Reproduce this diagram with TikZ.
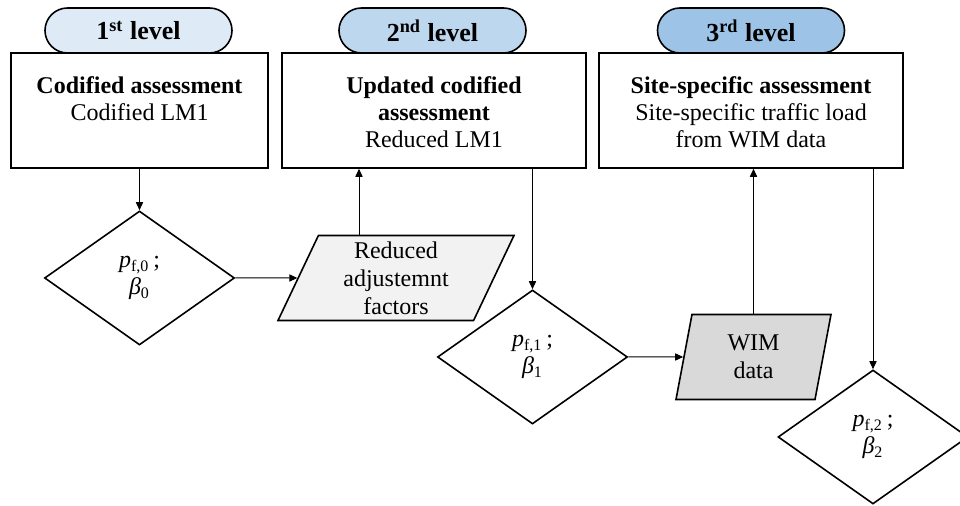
\documentclass[tikz,border=0pt]{standalone}
\usepackage{fontspec}
\setmainfont{Liberation Serif}
\usetikzlibrary{shapes.geometric,shapes.misc,arrows.meta}
\definecolor{lvA}{HTML}{DEEBF7}
\definecolor{lvB}{HTML}{BDD7EE}
\definecolor{lvC}{HTML}{9DC3E6}
\definecolor{ioA}{HTML}{F2F2F2}
\definecolor{ioB}{HTML}{D9D9D9}
\begin{document}
\begin{tikzpicture}[x=0.5pt,y=-0.5pt,
  pill/.style={rounded rectangle, draw, line width=0.8pt, minimum width=93.5pt, minimum height=22.5pt, inner sep=0pt, font=\fontsize{13}{15}\selectfont\bfseries},
  box/.style={rectangle, draw, line width=0.8pt, minimum height=57.5pt, inner sep=0pt},
  boxtext/.style={anchor=north, inner sep=0pt, align=center, font=\fontsize{12}{13.5}\selectfont},
  dec/.style={diamond, draw, line width=0.8pt, minimum width=95pt, minimum height=67pt, inner sep=0pt, align=center, font=\fontsize{12}{13.5}\selectfont},
  io/.style={trapezium, draw, line width=0.8pt, trapezium stretches body, minimum height=42.5pt, inner sep=0pt, align=center, font=\fontsize{12}{14}\selectfont},
  conn/.style={line width=0.5pt, -{Triangle[length=4pt,width=3.6pt]}}
]
\useasboundingbox (0,0) rectangle (960,506);
\fill[white] (0,0) rectangle (960,506);
\clip (0,0) rectangle (960,506);

% boxes
\node[box, minimum width=128.5pt] (b1) at (139.5,110.5) {};
\node[box, minimum width=152pt] (b2) at (434,110.5) {};
\node[box, minimum width=152pt] (b3) at (751,110.5) {};
\node[boxtext] (b1t) at (139.5,76) {\textbf{Codified assessment}\\Codified LM1};
\node[boxtext] (b2t) at (434,76) {\textbf{Updated codified}\\\textbf{assessment}\\Reduced LM1};
\node[boxtext] (b3t) at (751,76) {\textbf{Site-specific assessment}\\Site-specific traffic load\\from WIM data};

% level pills
\node[pill, fill=lvA] (l1) at (138.5,30.5) {1\textsuperscript{st} level};
\node[pill, fill=lvB] (l2) at (432.5,30.5) {2\textsuperscript{nd} level};
\node[pill, fill=lvC] (l3) at (751,30.5) {3\textsuperscript{rd} level};

% decisions
\node[dec] (d1) at (139.5,278) {{\itshape p}\textsubscript{f,0}\,;\\{\itshape β}\textsubscript{0}};
\node[dec] (d2) at (532.5,357) {{\itshape p}\textsubscript{f,1}\,;\\{\itshape β}\textsubscript{1}};
\node[dec] (d3) at (873,437) {{\itshape p}\textsubscript{f,2}\,;\\{\itshape β}\textsubscript{2}};

% inputs
\node[io, fill=ioA, trapezium left angle=61, trapezium right angle=119, minimum width=118pt] (p1) at (396,278) {Reduced\\adjustemnt\\factors};
\node[io, fill=ioB, trapezium left angle=70, trapezium right angle=110, minimum width=77.5pt] (w) at (753.5,357) {WIM\\data};

% connectors
\coordinate (c1) at ([xshift=-18.5pt]p1.center);
\draw[conn] (b1.south) -- (d1.north);
\draw[conn] (d1.east) -- (p1);
\draw[conn] (c1 |- p1.north) -- (c1 |- b2.south);
\draw[conn] (d2.north |- b2.south) -- (d2.north);
\draw[conn] (d2.east) -- (w);
\draw[conn] (w.center |- w.north) -- (w.center |- b3.south);
\draw[conn] (d3.north |- b3.south) -- (d3.north);
\end{tikzpicture}
\end{document}
